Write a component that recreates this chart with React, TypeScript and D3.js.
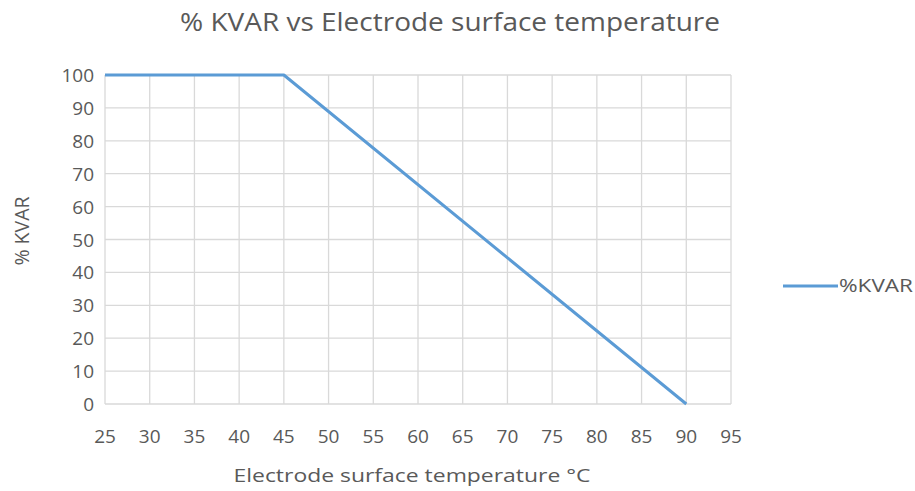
import React from "react";
import * as d3 from "d3";

const temps = [25, 45, 90];
const kvar = [100, 100, 0];
const xTicks = [25, 30, 35, 40, 45, 50, 55, 60, 65, 70, 75, 80, 85, 90, 95];
const yTicks = [0, 10, 20, 30, 40, 50, 60, 70, 80, 90, 100];
const seriesName = "%KVAR";

export default function App() {
  const W = 915, H = 491;
  const x = d3.scaleLinear().domain([25, 95]).range([105, 731]);
  const y = d3.scaleLinear().domain([0, 100]).range([404, 75]);
  const pts = temps.map((t, i) => [t, kvar[i]] as [number, number]);
  const line = d3.line<[number, number]>().x(d => x(d[0])).y(d => y(d[1]));
  const font = "'Open Sans', sans-serif";
  const grey = "#595959";
  return (
    <svg width={W} height={H} style={{ position: "absolute", left: 0, top: 0, background: "#fff" }}>
      <rect x={0} y={0} width={W} height={H} fill="#fff" />
      <text x={450} y={31} textAnchor="middle" fontFamily={font} fontSize={25} fill={grey} textLength={540} lengthAdjust="spacingAndGlyphs">
        % KVAR vs Electrode surface temperature
      </text>
      {xTicks.map(t => (
        <line key={"gx" + t} x1={x(t)} x2={x(t)} y1={y(0)} y2={y(100)} stroke="#d9d9d9" strokeWidth={1.3} />
      ))}
      {yTicks.map(t => (
        <line key={"gy" + t} x1={x(25)} x2={x(95)} y1={y(t)} y2={y(t)} stroke="#d9d9d9" strokeWidth={1.3} />
      ))}
      {xTicks.map(t => (
        <text key={"tx" + t} x={x(t)} y={443} textAnchor="middle" fontFamily={font} fontSize={19} fill={grey}>
          {t}
        </text>
      ))}
      {yTicks.map(t => (
        <text key={"ty" + t} x={94} y={y(t) + 7} textAnchor="end" fontFamily={font} fontSize={19} fill={grey}>
          {t}
        </text>
      ))}
      <path d={line(pts) || ""} fill="none" stroke="#5B9BD5" strokeWidth={3} strokeLinejoin="round" />
      <text x={412} y={482} textAnchor="middle" fontFamily={font} fontSize={19} fill={grey} textLength={357} lengthAdjust="spacingAndGlyphs">
        Electrode surface temperature °C
      </text>
      <text transform={`translate(29,231) rotate(-90)`} textAnchor="middle" fontFamily={font} fontSize={19.5} fill={grey}>
        % KVAR
      </text>
      <line x1={783} x2={838} y1={286} y2={286} stroke="#5B9BD5" strokeWidth={3} />
      <text x={839} y={292} fontFamily={font} fontSize={18} fill={grey} textLength={74} lengthAdjust="spacingAndGlyphs">
        {seriesName}
      </text>
    </svg>
  );
}
